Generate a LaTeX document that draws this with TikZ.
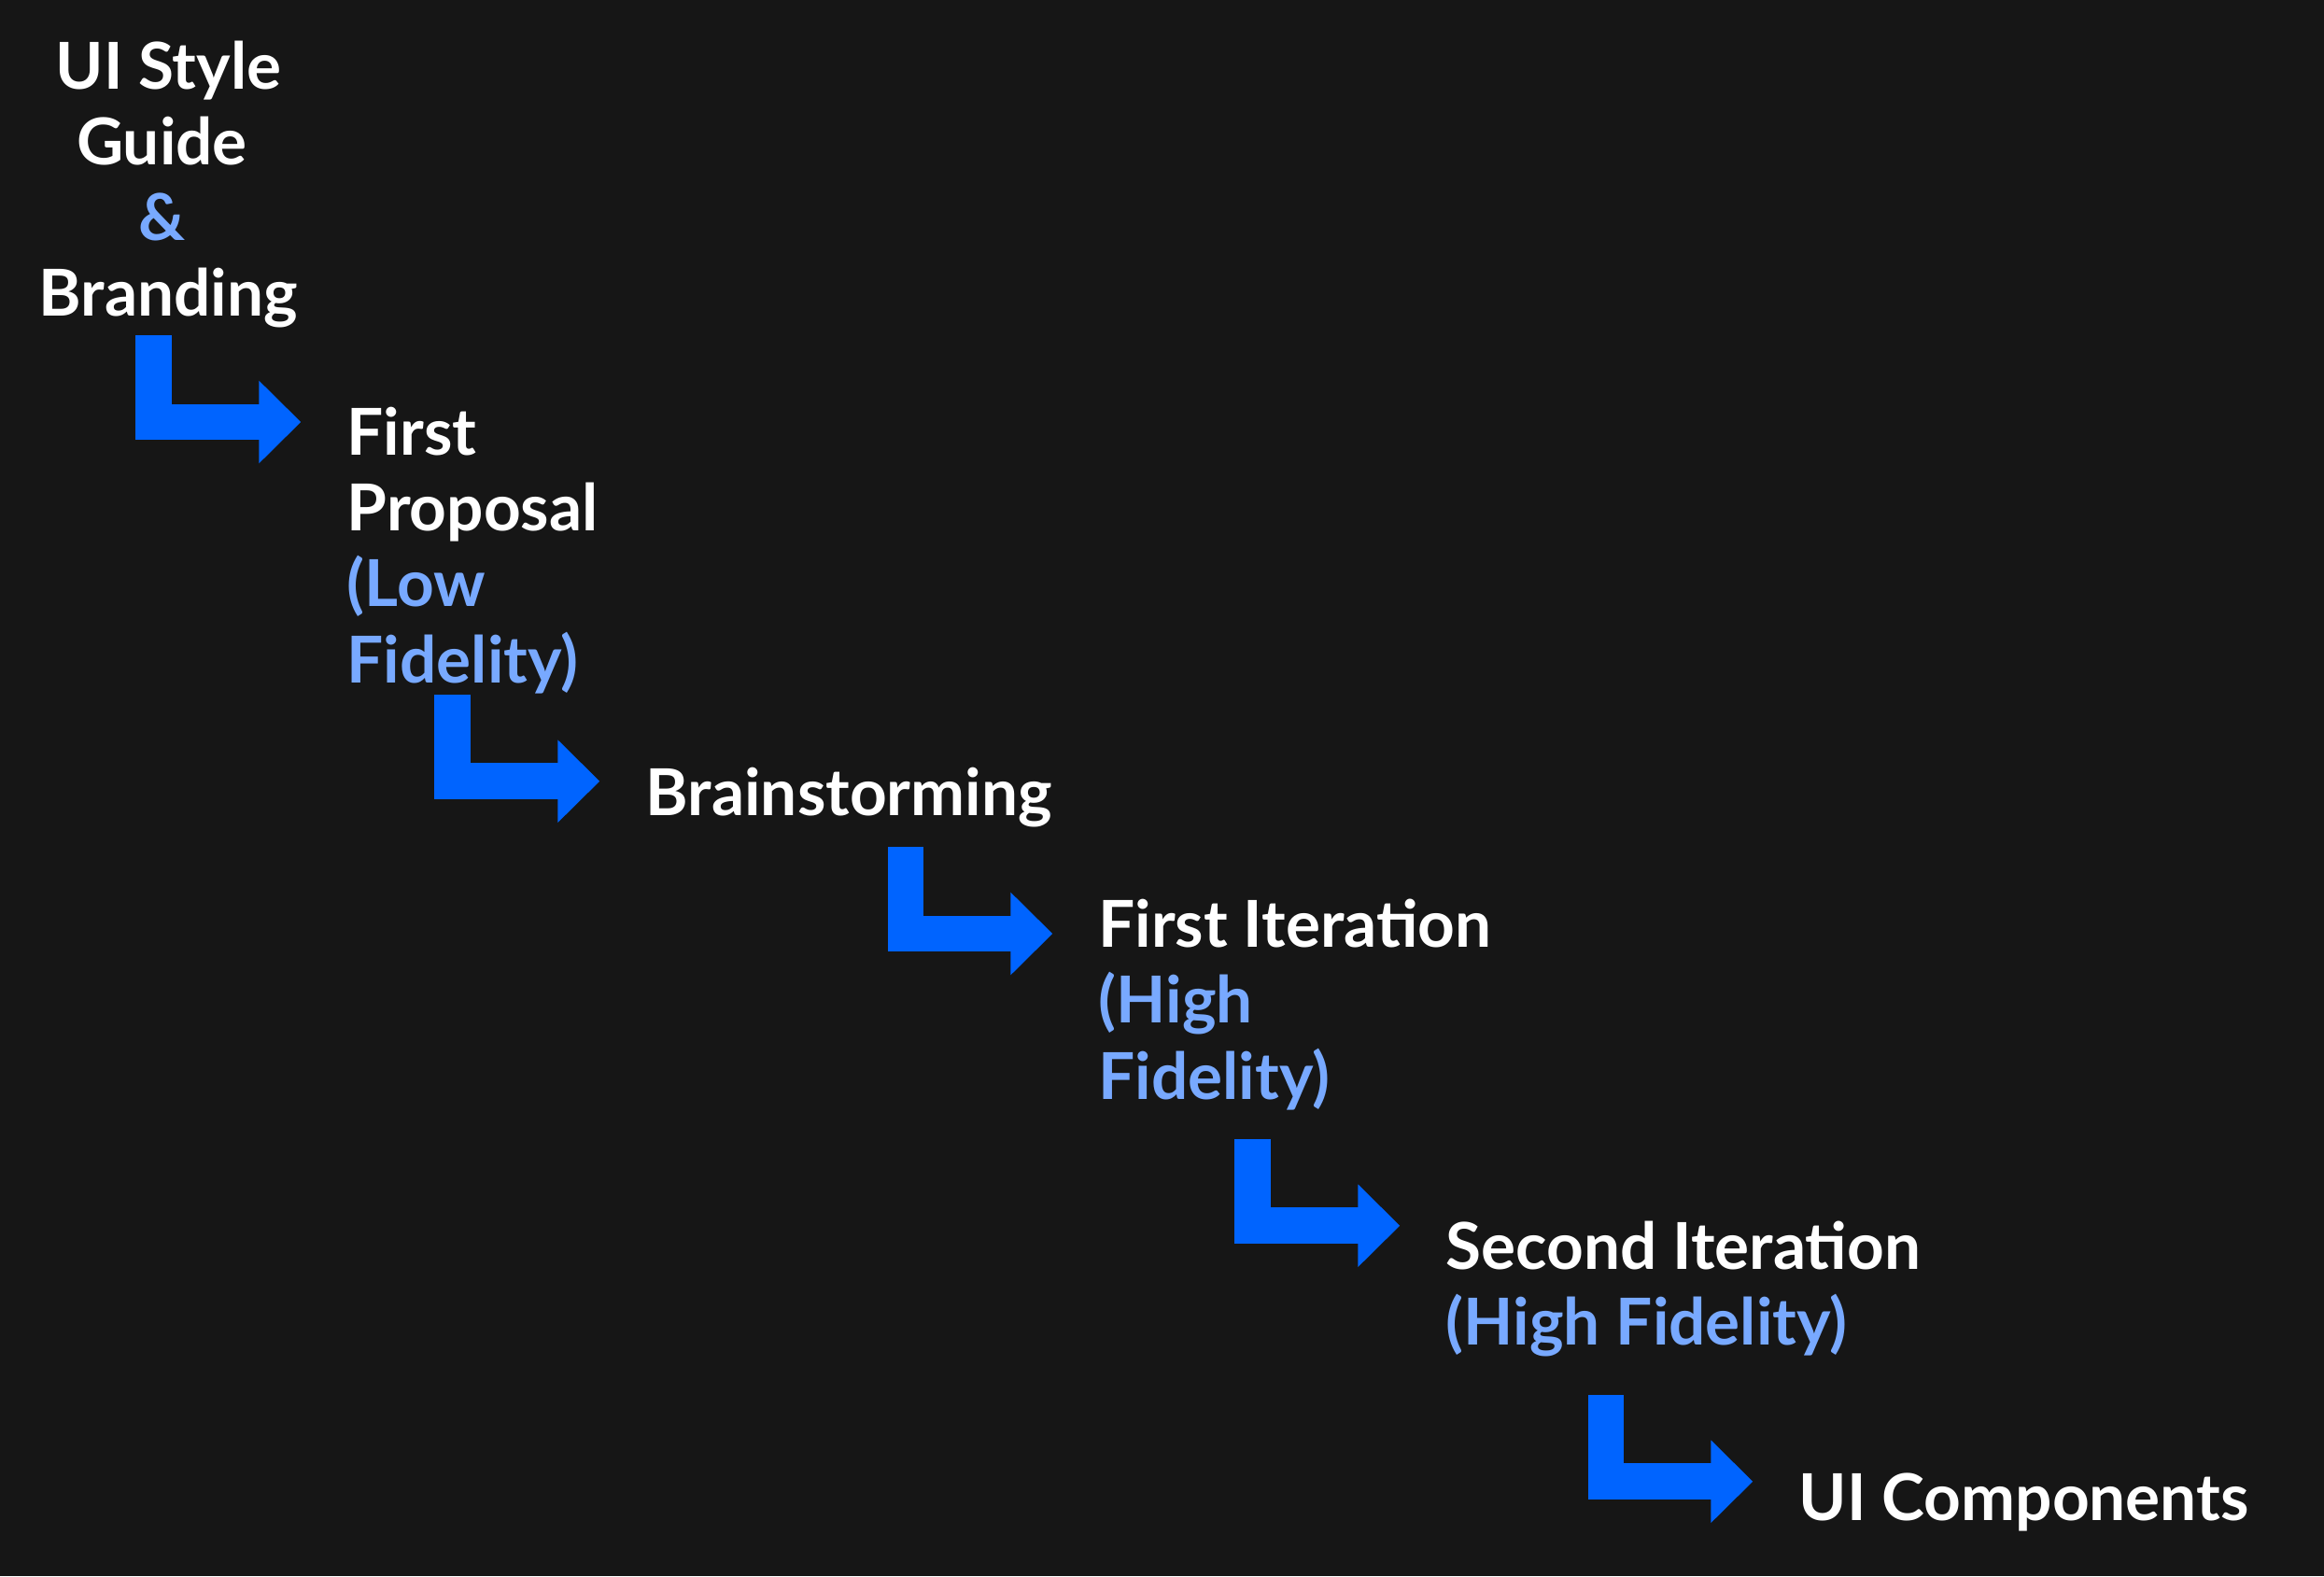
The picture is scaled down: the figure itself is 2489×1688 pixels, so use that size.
\documentclass[tikz,border=0pt]{standalone}
\usepackage{fontspec}
\setmainfont{Lato}
\usetikzlibrary{arrows.meta}
\definecolor{bgdark}{HTML}{161616}
\definecolor{flowblue}{HTML}{0064FF}
\definecolor{softblue}{HTML}{78A9FF}
\newcommand{\soft}[1]{\textcolor{softblue}{#1}}
\begin{document}
\begin{tikzpicture}[x=0.01cm,y=-0.01cm]
\tikzset{stage/.style={inner sep=0pt, text=white, align=left, anchor=base west,
  font=\fontsize{19.7pt}{23.05pt}\selectfont\bfseries}}
\tikzset{flow/.style={draw=flowblue, line width=0.385cm, line join=miter,
  -{Triangle[length=0.45cm,width=0.86cm]}}}
\useasboundingbox (0,0) rectangle (2489,1688);
\fill [bgdark] (0,0) rectangle (2489,1688);
\node [stage, align=center, anchor=base] (guide) at (180.5,338.7) {UI Style\\Guide\kern0.2em\\\soft{\&}\kern0.2em\\Branding};
\node [stage] (proposal) at (371,731) {First\\Proposal\\\soft{(Low}\\\soft{Fidelity)}};
\node [stage] (brainstorm) at (691,873.3) {Brainstorming};
\node [stage] (iterone) at (1175.7,1177) {First Iteration\\\soft{(High}\\\soft{Fidelity)}};
\node [stage] (itertwo) at (1548,1440.3) {Second Iteration\\\soft{(High Fidelity)}};
\node [stage] (components) at (1926,1628.3) {UI Components};
\coordinate (s1) at (164.7,359);
\coordinate (t1) at (322.3,452);
\coordinate (s2) at (484.7,744);
\coordinate (t2) at (642.3,836.7);
\coordinate (s3) at (969.8,907.3);
\coordinate (t3) at (1127.3,1000);
\coordinate (s4) at (1341.7,1220);
\coordinate (t4) at (1499.3,1312.7);
\coordinate (s5) at (1719.8,1494);
\coordinate (t5) at (1877.3,1586.7);
\draw [flow] (s1) |- (t1);
\draw [flow] (s2) |- (t2);
\draw [flow] (s3) |- (t3);
\draw [flow] (s4) |- (t4);
\draw [flow] (s5) |- (t5);
\end{tikzpicture}
\end{document}
